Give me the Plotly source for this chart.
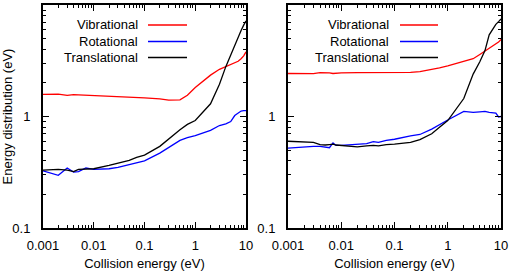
import plotly.graph_objects as go

# ---- data ----
x_left = [0.001, 0.002, 0.003, 0.004, 0.005, 0.007, 0.01, 0.02, 0.03, 0.05, 0.07,
          0.1, 0.2, 0.3, 0.5, 0.7, 1, 2, 3, 4, 5, 6, 7, 8, 9, 10]
vib_left = [1.58, 1.59, 1.55, 1.57, 1.56, 1.55, 1.55, 1.53, 1.52, 1.50, 1.48,
            1.47, 1.44, 1.40, 1.41, 1.55, 1.82, 2.35, 2.65, 2.82, 2.94, 3.05, 3.13, 3.3, 3.5, 3.8]
rot_left = [0.325, 0.297, 0.345, 0.318, 0.32, 0.345, 0.335, 0.34, 0.35, 0.368, 0.385,
            0.40, 0.47, 0.53, 0.61, 0.645, 0.675, 0.75, 0.83, 0.86, 0.9, 1.02, 1.07, 1.12, 1.13, 1.13]
tra_left = [0.33, 0.335, 0.33, 0.32, 0.335, 0.335, 0.34, 0.365, 0.38, 0.405, 0.43,
            0.45, 0.54, 0.63, 0.76, 0.85, 0.92, 1.3, 1.95, 2.8, 3.6, 4.4, 5.2, 5.9, 6.6, 7.2]

x_right = [0.001, 0.002, 0.003, 0.004, 0.005, 0.006, 0.007, 0.008, 0.01, 0.02, 0.03,
           0.04, 0.05, 0.07, 0.1, 0.2, 0.3, 0.5, 0.7, 1, 2, 3, 4, 5, 6, 7, 8, 9, 10]
vib_right = [2.43, 2.43, 2.42, 2.47, 2.47, 2.46, 2.43, 2.45, 2.46, 2.47, 2.47,
             2.46, 2.46, 2.47, 2.47, 2.49, 2.53, 2.63, 2.73, 2.85, 3.1, 3.3, 3.6, 3.85, 4.05, 4.25, 4.45, 4.65, 4.9]
rot_right = [0.52, 0.535, 0.54, 0.54, 0.535, 0.525, 0.58, 0.55, 0.55, 0.56, 0.57,
             0.595, 0.585, 0.61, 0.625, 0.67, 0.69, 0.77, 0.85, 0.93, 1.11, 1.09, 1.10, 1.11, 1.09, 1.08, 1.07, 0.99, 1.0]
tra_right = [0.60, 0.59, 0.585, 0.56, 0.555, 0.56, 0.565, 0.555, 0.55, 0.535, 0.545,
             0.55, 0.545, 0.56, 0.565, 0.585, 0.62, 0.70, 0.80, 0.92, 1.45, 2.4, 3.1, 3.9, 5.4, 6.1, 6.7, 7.1, 7.5]

series_names = ["Vibrational", "Rotational", "Translational"]
series_colors = ["#ff0000", "#0000ff", "#000000"]

x_ticks = [0.001, 0.01, 0.1, 1, 10]
x_ticktext = ["0.001", "0.01", "0.1", "1", "10"]
y_ticks = [0.1, 1, 10]
y_ticktext = ["0.1", "1", "10"]

x_title = "Collision energy (eV)"
y_title = "Energy distribution (eV)"

# ---- figure ----
W, H = 510, 271
FONT = "Liberation Sans, Arial, sans-serif"
FS = 13

fig = go.Figure()

panels = [
    (x_left, [vib_left, rot_left, tra_left], "x", "y"),
    (x_right, [vib_right, rot_right, tra_right], "x2", "y2"),
]
for xs, ys_list, xa, ya in panels:
    for name, col, ys in zip(series_names, series_colors, ys_list):
        fig.add_trace(go.Scatter(x=xs, y=ys, mode="lines", name=name,
                                 line=dict(color=col, width=1.3),
                                 xaxis=xa, yaxis=ya, showlegend=False, hoverinfo="skip"))

minor_x = [m * 10 ** e for e in range(-3, 1) for m in range(2, 10)]
minor_y = [m * 10 ** e for e in range(-1, 1) for m in range(2, 10)]

def xax(domain, anchor):
    return dict(type="log", domain=domain, anchor=anchor, range=[-3, 1], automargin=False,
                tickmode="array", tickvals=x_ticks, ticktext=x_ticktext,
                ticks="inside", ticklen=6, tickwidth=1, tickcolor="black",
                minor=dict(tickvals=minor_x, ticks="inside", ticklen=3, tickcolor="black", tickwidth=1),
                showline=True, linecolor="black", linewidth=2, mirror="allticks",
                showgrid=False, zeroline=False, ticklabelstandoff=4,
                tickfont=dict(family=FONT, size=FS, color="black"),
                title=dict(text=x_title, font=dict(family=FONT, size=FS, color="black"), standoff=8))

def yax(domain, anchor, title):
    d = dict(type="log", domain=domain, anchor=anchor, range=[-1, 1], automargin=False,
             tickmode="array", tickvals=y_ticks, ticktext=y_ticktext,
             ticks="inside", ticklen=6, tickwidth=1, tickcolor="black",
             minor=dict(tickvals=minor_y, ticks="inside", ticklen=3, tickcolor="black", tickwidth=1),
             showline=True, linecolor="black", linewidth=2, mirror="allticks",
             showgrid=False, zeroline=False, ticklabelstandoff=8,
             tickfont=dict(family=FONT, size=FS, color="black"))
    if title:
        d["title"] = dict(text=title, font=dict(family=FONT, size=FS, color="black"), standoff=2)
    return d

ydom = [1 - 228 / H, 1 - 5 / H]
fig.update_layout(
    template="none",
    width=W, height=H, margin=dict(l=0, r=0, t=0, b=0, autoexpand=False),
    paper_bgcolor="white", plot_bgcolor="white", hovermode=False,
    xaxis=xax([43 / W, 246 / W], "y"),
    yaxis=yax(ydom, "x", y_title),
    xaxis2=xax([288 / W, 501 / W], "y2"),
    yaxis2=yax(ydom, "x2", None),
)

# gnuplot-style key: right-aligned text followed by line sample
key_rows = [25, 41.5, 57.5]
key_panels = [(140, 148, 187), (391, 400, 438)]
anns, shapes = [], []
for tx, lx0, lx1 in key_panels:
    for name, col, yy in zip(series_names, series_colors, key_rows):
        anns.append(dict(x=tx / W, y=1 - yy / H, xref="paper", yref="paper",
                         text=name, showarrow=False, xanchor="right", yanchor="middle",
                         font=dict(family=FONT, size=FS, color="black")))
        shapes.append(dict(type="line", xref="paper", yref="paper",
                           x0=lx0 / W, x1=lx1 / W, y0=1 - yy / H, y1=1 - yy / H,
                           line=dict(color=col, width=1.3)))
fig.update_layout(annotations=anns, shapes=shapes)

fig.write_html("out.html", config={"displayModeBar": False, "staticPlot": True},
               post_script="document.body.style.margin='0';document.body.style.overflow='hidden';")
